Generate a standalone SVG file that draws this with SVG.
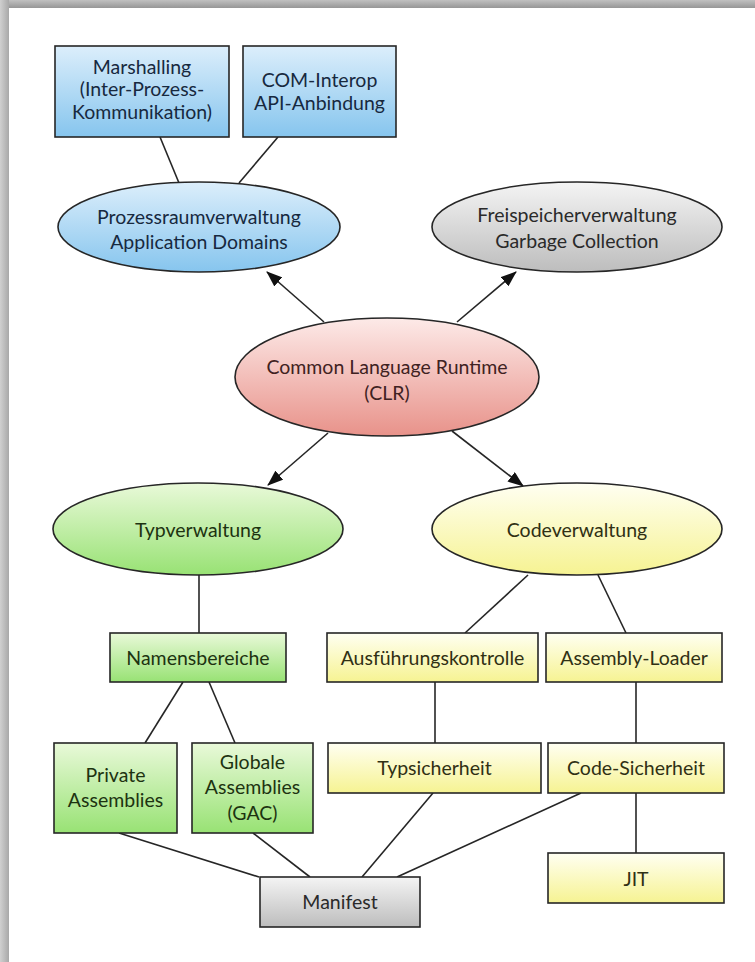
<svg xmlns="http://www.w3.org/2000/svg" width="755" height="962" viewBox="0 0 755 962">
  <defs>
    <linearGradient id="gBlue" x1="0" y1="0" x2="0" y2="1">
      <stop offset="0" stop-color="#dceefb"/>
      <stop offset="1" stop-color="#86c5ee"/>
    </linearGradient>
    <linearGradient id="gGray" x1="0" y1="0" x2="0" y2="1">
      <stop offset="0" stop-color="#f4f4f4"/>
      <stop offset="1" stop-color="#bdbdbd"/>
    </linearGradient>
    <linearGradient id="gRed" x1="0" y1="0" x2="0" y2="1">
      <stop offset="0" stop-color="#fdeae8"/>
      <stop offset="1" stop-color="#e8928a"/>
    </linearGradient>
    <linearGradient id="gGreen" x1="0" y1="0" x2="0" y2="1">
      <stop offset="0" stop-color="#e9f9d9"/>
      <stop offset="1" stop-color="#98e274"/>
    </linearGradient>
    <linearGradient id="gYellow" x1="0" y1="0" x2="0" y2="1">
      <stop offset="0" stop-color="#fffff2"/>
      <stop offset="1" stop-color="#f6f392"/>
    </linearGradient>
    <linearGradient id="gTop" x1="0" y1="0" x2="0" y2="1">
      <stop offset="0" stop-color="#c0c0c0"/>
      <stop offset="1" stop-color="#969696"/>
    </linearGradient>
    <linearGradient id="gLeft" x1="0" y1="0" x2="1" y2="0">
      <stop offset="0" stop-color="#d0d0d0"/>
      <stop offset="1" stop-color="#a8a8a8"/>
    </linearGradient>
    <marker id="arrow" viewBox="0 0 16 12" refX="15" refY="6" markerWidth="16" markerHeight="12" markerUnits="userSpaceOnUse" orient="auto">
      <path d="M0,0 L16,6 L0,12 Z" fill="#111"/>
    </marker>
  </defs>
  <style>
    .shape { stroke: #262626; stroke-width: 1.6; }
    .blue { fill: url(#gBlue); }
    .gray { fill: url(#gGray); }
    .red { fill: url(#gRed); }
    .green { fill: url(#gGreen); }
    .yellow { fill: url(#gYellow); }
    text { font-family: Lato, "Liberation Sans", sans-serif; font-size: 19.5px; text-anchor: middle; }
    .tBlue { fill: #17293f; }
    .tGray { fill: #2a2a2a; }
    .tRed { fill: #3f2222; }
    .tGreen { fill: #1d3311; }
    .tYellow { fill: #303014; }
    .link { stroke: #262626; stroke-width: 1.6; fill: none; }
    .arrow { marker-end: url(#arrow); }
  </style>

  <!-- page with shadow along the top and left edges -->
  <rect x="0" y="0" width="755" height="962" fill="#ffffff"/>
  <rect x="0" y="0" width="755" height="8" fill="url(#gTop)"/>
  <rect x="0" y="0" width="9" height="962" fill="url(#gLeft)"/>

  <!-- connectors -->
  <g id="connectors">
    <line class="link" x1="160" y1="137" x2="179" y2="183"/>
    <line class="link" x1="278" y1="137" x2="239" y2="183"/>
    <line class="link arrow" x1="324" y1="322" x2="267" y2="272"/>
    <line class="link arrow" x1="457" y1="322" x2="516" y2="272"/>
    <line class="link arrow" x1="328" y1="433" x2="268" y2="485"/>
    <line class="link arrow" x1="452" y1="431" x2="523" y2="486"/>
    <line class="link" x1="199" y1="575" x2="199" y2="633"/>
    <line class="link" x1="528" y1="575" x2="465" y2="633"/>
    <line class="link" x1="598" y1="575" x2="626" y2="633"/>
    <line class="link" x1="183" y1="682" x2="145" y2="743"/>
    <line class="link" x1="209" y1="682" x2="235" y2="743"/>
    <line class="link" x1="435" y1="682" x2="435" y2="743"/>
    <line class="link" x1="636" y1="682" x2="636" y2="743"/>
    <line class="link" x1="636" y1="793" x2="636" y2="853"/>
    <line class="link" x1="119" y1="833" x2="259" y2="877"/>
    <line class="link" x1="253" y1="833" x2="310" y2="877"/>
    <line class="link" x1="433" y1="793" x2="362" y2="877"/>
    <line class="link" x1="581" y1="793" x2="397" y2="877"/>
  </g>

  <!-- nodes -->
  <g id="marshalling">
    <rect class="shape blue" x="55" y="46" width="174" height="91"/>
    <text class="tBlue" x="142" y="74">Marshalling</text>
    <text class="tBlue" x="142" y="96">(Inter-Prozess-</text>
    <text class="tBlue" x="142" y="119">Kommunikation)</text>
  </g>
  <g id="com-interop">
    <rect class="shape blue" x="243" y="46" width="153" height="91"/>
    <text class="tBlue" x="319.5" y="87">COM-Interop</text>
    <text class="tBlue" x="319.5" y="110">API-Anbindung</text>
  </g>
  <g id="prozessraum">
    <ellipse class="shape blue" cx="199" cy="227" rx="141" ry="45"/>
    <text class="tBlue" x="199" y="224">Prozessraumverwaltung</text>
    <text class="tBlue" x="199" y="249">Application Domains</text>
  </g>
  <g id="freispeicher">
    <ellipse class="shape gray" cx="577" cy="227" rx="145" ry="45"/>
    <text class="tGray" x="577" y="222">Freispeicherverwaltung</text>
    <text class="tGray" x="577" y="248">Garbage Collection</text>
  </g>
  <g id="clr">
    <ellipse class="shape red" cx="387" cy="377" rx="152" ry="59"/>
    <text class="tRed" x="387" y="374">Common Language Runtime</text>
    <text class="tRed" x="387" y="400">(CLR)</text>
  </g>
  <g id="typverwaltung">
    <ellipse class="shape green" cx="198" cy="529" rx="145" ry="46"/>
    <text class="tGreen" x="198" y="537">Typverwaltung</text>
  </g>
  <g id="codeverwaltung">
    <ellipse class="shape yellow" cx="577" cy="529" rx="145" ry="46"/>
    <text class="tYellow" x="577" y="537">Codeverwaltung</text>
  </g>
  <g id="namensbereiche">
    <rect class="shape green" x="110" y="633" width="176" height="49"/>
    <text class="tGreen" x="198" y="665">Namensbereiche</text>
  </g>
  <g id="ausfuehrungskontrolle">
    <rect class="shape yellow" x="327" y="633" width="211" height="49"/>
    <text class="tYellow" x="432.5" y="665">Ausführungskontrolle</text>
  </g>
  <g id="assembly-loader">
    <rect class="shape yellow" x="546" y="633" width="176" height="49"/>
    <text class="tYellow" x="634" y="665">Assembly-Loader</text>
  </g>
  <g id="private-assemblies">
    <rect class="shape green" x="54" y="743" width="123" height="90"/>
    <text class="tGreen" x="115.5" y="782">Private</text>
    <text class="tGreen" x="115.5" y="807">Assemblies</text>
  </g>
  <g id="globale-assemblies">
    <rect class="shape green" x="192" y="743" width="121" height="90"/>
    <text class="tGreen" x="252.5" y="769">Globale</text>
    <text class="tGreen" x="252.5" y="794">Assemblies</text>
    <text class="tGreen" x="252.5" y="820">(GAC)</text>
  </g>
  <g id="typsicherheit">
    <rect class="shape yellow" x="328" y="743" width="213" height="50"/>
    <text class="tYellow" x="434.5" y="775">Typsicherheit</text>
  </g>
  <g id="code-sicherheit">
    <rect class="shape yellow" x="548" y="743" width="176" height="50"/>
    <text class="tYellow" x="636" y="775">Code-Sicherheit</text>
  </g>
  <g id="jit">
    <rect class="shape yellow" x="548" y="853" width="176" height="50"/>
    <text class="tYellow" x="636" y="886">JIT</text>
  </g>
  <g id="manifest">
    <rect class="shape gray" x="260" y="877" width="160" height="50"/>
    <text class="tGray" x="340" y="909">Manifest</text>
  </g>
</svg>
